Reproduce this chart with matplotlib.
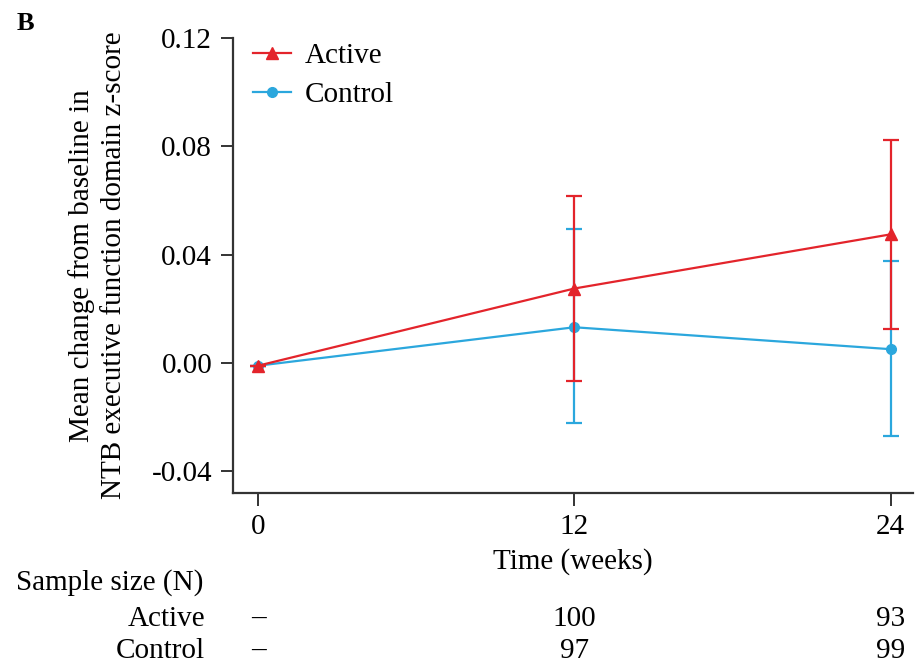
import matplotlib
matplotlib.use("Agg")
import matplotlib.pyplot as plt
from matplotlib.lines import Line2D
from matplotlib.transforms import blended_transform_factory

plt.rcParams['font.family'] = ['Liberation Serif', 'DejaVu Serif']

# Data
weeks = [0, 12, 24]
active_mean = [-0.001, 0.0275, 0.0475]
active_low = [-0.001, -0.0065, 0.0125]
active_high = [-0.001, 0.0615, 0.0822]
control_mean = [-0.001, 0.0132, 0.0051]
control_low = [-0.001, -0.0222, -0.0268]
control_high = [-0.001, 0.0493, 0.0378]
yticks = [-0.04, 0.00, 0.04, 0.08, 0.12]
n_active = ["\u2013", "100", "93"]
n_control = ["\u2013", "97", "99"]

red = "#e3242b"
blue = "#2ba7dd"
axis_col = "#333333"
fs = 21

fig = plt.figure(figsize=(9.2, 6.63), dpi=100)
ax = fig.add_axes([233/920, 1 - 493/663, (913 - 233)/920, (493 - 38)/663])

c_err = [[m - l for m, l in zip(control_mean, control_low)],
         [h - m for m, h in zip(control_mean, control_high)]]
a_err = [[m - l for m, l in zip(active_mean, active_low)],
         [h - m for m, h in zip(active_mean, active_high)]]

ax.errorbar(weeks, control_mean, yerr=c_err, color=blue, marker='o', markersize=7,
            lw=1.6, elinewidth=1.6, capsize=5.5, capthick=1.6, zorder=2)
ax.errorbar(weeks, active_mean, yerr=a_err, color=red, marker='^', markersize=8,
            lw=1.6, elinewidth=1.6, capsize=5.5, capthick=1.6, zorder=3)

ax.set_xlim(-0.95, 24.85)
ax.set_ylim(-0.048, 0.12)
ax.set_xticks(weeks)
ax.set_xticklabels([str(w) for w in weeks])
ax.set_yticks(yticks)
ax.set_yticklabels([f"{t:.2f}" for t in yticks])

for s in ['top', 'right']:
    ax.spines[s].set_visible(False)
for s in ['left', 'bottom']:
    ax.spines[s].set_linewidth(1.6)
    ax.spines[s].set_color(axis_col)
ax.tick_params(axis='both', direction='out', length=9, width=1.4, color=axis_col,
               labelsize=fs, pad=6)

ax.set_xlabel("Time (weeks)", fontsize=fs, labelpad=6)
ax.set_ylabel("Mean change from baseline in\nNTB executive function domain z-score",
              fontsize=fs, labelpad=18, linespacing=1.3)

handles = [Line2D([], [], color=red, marker='^', markersize=8, lw=1.6),
           Line2D([], [], color=blue, marker='o', markersize=7, lw=1.6)]
ax.legend(handles, ['Active', 'Control'], loc='upper left', frameon=False,
          fontsize=fs, bbox_to_anchor=(0.0, 1.035), handlelength=1.3,
          handletextpad=0.45, labelspacing=0.45, borderaxespad=0.3)

fig.text(17/920, 1 - 24/663, "B", fontsize=19, fontweight='bold', va='center', ha='left')

# Sample size table below the axis
tr = blended_transform_factory(ax.transData, fig.transFigure)
fig.text(16/920, 1 - 583/663, "Sample size (N)", fontsize=fs, va='center', ha='left')
fig.text(205/920, 1 - 626/663, "Active", fontsize=fs, va='baseline', ha='right')
fig.text(205/920, 1 - 658/663, "Control", fontsize=fs, va='baseline', ha='right')
for w, a, c in zip(weeks, n_active, n_control):
    ax.text(w, 1 - 626/663, a, transform=tr, fontsize=fs, va='baseline', ha='center')
    ax.text(w, 1 - 658/663, c, transform=tr, fontsize=fs, va='baseline', ha='center')

fig.savefig("out.png", dpi=100)
